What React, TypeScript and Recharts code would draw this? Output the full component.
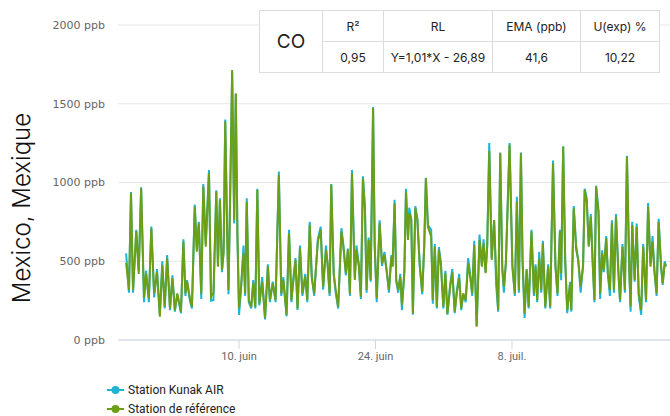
import React from 'react';
import { LineChart, Line, XAxis, YAxis, CartesianGrid, Legend } from 'recharts';

const START_UTC = Date.UTC(2024, 4, 29, 10);
const HOUR = 3600000;

const siteName = 'Mexico, Mexique';
const pollutant = 'CO';
const tableHeader = ['R²', 'RL', 'EMA (ppb)', 'U(exp) %'];
const tableValues = ['0,95', 'Y=1,01*X - 26,89', '41,6', '10,22'];
const seriesNames = ['Station Kunak AIR', 'Station de référence'];
const seriesColors = ['#1fb3d6', '#6c9f15'];
const yTicks = [0, 500, 1000, 1500, 2000];
const tickDates = ['2024-06-10', '2024-06-24', '2024-07-08'];
const frMonths = ['janv.', 'févr.', 'mars', 'avr.', 'mai', 'juin', 'juil.', 'août', 'sept.', 'oct.', 'nov.', 'déc.'];

const hoursFromStart = [
  0, 7, 12, 17, 25, 31, 37, 44, 49, 56,
  62, 69, 76, 83, 89, 95, 101, 108, 114, 120,
  126, 135, 141, 146, 150, 157, 162, 169, 174, 179,
  185, 190, 196, 204, 209, 215, 222, 226, 231, 236,
  240, 244, 249, 252, 256, 261, 266, 270, 274, 278,
  283, 289, 293, 297, 302, 308, 313, 318, 323, 328,
  335, 342, 349, 354, 361, 368, 376, 382, 387, 395,
  401, 407, 412, 417, 422, 428, 434, 441, 446, 452,
  457, 463, 472, 479, 485, 492, 496, 501, 505, 511,
  516, 522, 530, 535, 541, 546, 551, 556, 563, 567,
  573, 578, 583, 588, 592, 597, 602, 608, 612, 617,
  624, 630, 636, 642, 647, 653, 656, 661, 665, 670,
  675, 679, 685, 689, 694, 697, 702, 706, 712, 717,
  723, 729, 734, 738, 743, 751, 755, 760, 765, 770,
  775, 781, 786, 791, 798, 803, 809, 814, 820, 825,
  830, 836, 842, 847, 852, 857, 863, 870, 876, 880,
  885, 889, 894, 900, 906, 911, 916, 921, 926, 930,
  935, 944, 951, 957, 962, 967, 972, 976, 981, 986,
  991, 998, 1004, 1008, 1012, 1017, 1022, 1026, 1032, 1039,
  1044, 1051, 1057, 1062, 1068, 1071, 1076, 1081, 1086, 1093,
  1096, 1102, 1108, 1113, 1119, 1125, 1129, 1134, 1139, 1144,
  1149, 1153, 1157, 1163, 1167, 1172, 1176, 1182, 1186, 1191,
  1196, 1201, 1206, 1212, 1216, 1222, 1228, 1233, 1239, 1242,
  1246, 1252, 1257, 1262, 1268, 1273, 1280, 1285, 1291, 1296,
  1301, 1306, 1311, 1317, 1321, 1326, 1329,
];

const referenceValues = [
  490, 318, 931, 318, 690, 420, 964, 270, 420, 265,
  710, 296, 430, 148, 476, 212, 519, 200, 392, 190,
  296, 180, 624, 296, 370, 265, 212, 846, 560, 740,
  296, 974, 592, 1058, 275, 300, 942, 466, 889, 445,
  550, 1388, 635, 318, 889, 1714, 762, 1566, 677, 200,
  339, 550, 296, 878, 254, 212, 360, 212, 953, 233,
  370, 138, 466, 254, 360, 254, 1048, 296, 381, 159,
  677, 254, 381, 508, 201, 582, 296, 402, 254, 730,
  392, 296, 624, 699, 339, 572, 487, 296, 985, 424,
  318, 212, 688, 592, 424, 572, 296, 1058, 381, 572,
  466, 275, 1027, 826, 318, 635, 381, 1473, 592, 265,
  741, 487, 540, 424, 318, 529, 466, 868, 381, 318,
  402, 222, 424, 942, 635, 805, 762, 169, 836, 762,
  466, 307, 592, 1027, 719, 656, 254, 592, 212, 572,
  476, 212, 424, 169, 339, 430, 180, 296, 392, 201,
  296, 254, 487, 402, 296, 603, 85, 635, 466, 614,
  424, 592, 1200, 508, 762, 424, 190, 1185, 466, 339,
  487, 1240, 466, 296, 880, 318, 1185, 508, 169, 445,
  212, 688, 296, 466, 254, 519, 318, 614, 212, 466,
  212, 1121, 466, 296, 688, 424, 1227, 508, 190, 360,
  190, 836, 572, 508, 339, 466, 953, 880, 592, 783,
  466, 254, 974, 805, 296, 550, 445, 646, 424, 318,
  741, 318, 783, 424, 254, 592, 318, 1164, 424, 212,
  730, 381, 719, 296, 190, 592, 254, 847, 466, 624,
  424, 296, 751, 466, 360, 487, 466,
];

const kunakValues = [
  550, 300, 940, 300, 700, 440, 970, 240, 440, 240,
  720, 270, 450, 160, 500, 200, 540, 190, 410, 180,
  290, 170, 640, 280, 380, 250, 200, 860, 580, 750,
  260, 990, 610, 1080, 250, 254, 950, 480, 900, 430,
  570, 1400, 650, 290, 900, 1700, 740, 1560, 660, 159,
  330, 600, 280, 900, 240, 200, 380, 200, 960, 220,
  400, 130, 480, 240, 370, 240, 1070, 280, 400, 150,
  700, 240, 400, 520, 190, 600, 280, 420, 240, 750,
  410, 280, 640, 720, 320, 600, 480, 280, 990, 420,
  300, 200, 710, 600, 410, 580, 280, 1080, 400, 600,
  480, 260, 1040, 840, 300, 650, 370, 1480, 600, 240,
  760, 470, 560, 430, 300, 540, 470, 890, 370, 300,
  420, 190, 440, 960, 650, 840, 770, 160, 850, 770,
  470, 290, 610, 1030, 730, 700, 230, 610, 200, 590,
  490, 200, 440, 160, 360, 450, 170, 310, 420, 190,
  290, 240, 520, 420, 280, 630, 90, 670, 470, 640,
  430, 610, 1251, 520, 760, 350, 180, 1190, 450, 300,
  500, 1250, 470, 280, 910, 300, 1190, 500, 140, 450,
  200, 700, 280, 480, 240, 560, 300, 630, 200, 480,
  200, 1140, 470, 280, 700, 380, 1230, 500, 170, 370,
  180, 850, 600, 510, 300, 480, 960, 900, 600, 800,
  480, 240, 980, 820, 260, 570, 430, 660, 420, 280,
  760, 300, 800, 430, 240, 610, 300, 1170, 420, 180,
  750, 370, 740, 280, 160, 610, 240, 870, 480, 660,
  430, 280, 770, 470, 350, 500, 470,
];

const data = hoursFromStart.map((h, i) => ({
  t: START_UTC + h * HOUR,
  kunak: kunakValues[i],
  reference: referenceValues[i],
}));

const xTicks = tickDates.map((s) => Date.parse(s + 'T00:00:00Z'));
const xDomain = [START_UTC - 20 * HOUR, START_UTC + 1339 * HOUR];

const formatDate = (v: number) => {
  const d = new Date(v);
  return `${d.getUTCDate()}. ${frMonths[d.getUTCMonth()]}`;
};

const LegendContent = () => (
  <div style={{ fontFamily: 'Roboto, sans-serif', fontSize: 12, lineHeight: '14px', color: '#222' }}>
    {seriesNames.map((name, i) => (
      <div key={name} style={{ display: 'flex', alignItems: 'center', height: 19 }}>
        <svg width={20} height={10} style={{ marginRight: 1 }}>
          <line x1={0} y1={5} x2={17} y2={5} stroke={seriesColors[i]} strokeWidth={2} />
          <circle cx={8.5} cy={5} r={4} fill={seriesColors[i]} />
        </svg>
        <span>{name}</span>
      </div>
    ))}
  </div>
);

const cellBorder = '1px solid #dcdcdc';

export default function App() {
  return (
    <div style={{ position: 'absolute', left: 0, top: 0, width: 670, height: 416, background: '#fff', overflow: 'hidden' }}>
      <LineChart width={670} height={416} data={data} margin={{ top: 25, right: 0, bottom: 46, left: 0 }}>
        <CartesianGrid vertical={false} stroke="#e6e6e6" />
        <XAxis
          dataKey="t"
          type="number"
          domain={xDomain}
          allowDataOverflow
          ticks={xTicks}
          tickFormatter={formatDate}
          stroke="#ccd6eb"
          tickSize={9}
          tickMargin={3}
          height={30}
          tick={{ fill: '#666', fontSize: 11, fontFamily: 'Roboto, sans-serif' }}
        />
        <YAxis
          width={118}
          domain={[0, 2000]}
          ticks={yTicks}
          axisLine={false}
          tickLine={false}
          tickMargin={7}
          tickFormatter={(v: number) => `${v} ppb`}
          tick={{ fill: '#666', fontSize: 11, fontFamily: 'DejaVu Sans, sans-serif' }}
        />
        <Line type="linear" dataKey="kunak" name={seriesNames[0]} stroke={seriesColors[0]} strokeWidth={2} dot={false} isAnimationActive={false} />
        <Line type="linear" dataKey="reference" name={seriesNames[1]} stroke={seriesColors[1]} strokeWidth={2} dot={false} isAnimationActive={false} />
        <Legend
          layout="horizontal"
          verticalAlign="middle"
          align="center"
          wrapperStyle={{ left: 107, top: 380, width: 200, height: 36 }}
          content={LegendContent}
        />
      </LineChart>
      <svg style={{ position: 'absolute', left: 0, top: 0 }} width={50} height={416}>
        <text
          transform="translate(29.5,208) rotate(-90)"
          textAnchor="middle"
          fontSize={24}
          fontFamily="Inter, sans-serif"
          fontWeight={300}
          fill="#111"
        >
          {siteName}
        </text>
      </svg>
      <div style={{ position: 'absolute', left: 259, top: 10, zIndex: 5, background: '#fff' }}>
        <table
          style={{
            borderCollapse: 'collapse',
            fontFamily: 'Inter, sans-serif',
            fontSize: 12,
            color: '#222',
            textAlign: 'center',
            background: '#fff',
          }}
        >
          <colgroup>
            <col style={{ width: 63 }} />
            <col style={{ width: 61 }} />
            <col style={{ width: 109 }} />
            <col style={{ width: 88 }} />
            <col style={{ width: 79 }} />
          </colgroup>
          <tbody>
            <tr style={{ height: 31 }}>
              <td rowSpan={2} style={{ border: cellBorder, fontSize: 19, padding: 0 }}>{pollutant}</td>
              {tableHeader.map((h) => (
                <td key={h} style={{ border: cellBorder, padding: 0 }}>{h}</td>
              ))}
            </tr>
            <tr style={{ height: 31 }}>
              {tableValues.map((v) => (
                <td key={v} style={{ border: cellBorder, padding: 0 }}>{v}</td>
              ))}
            </tr>
          </tbody>
        </table>
      </div>
    </div>
  );
}
